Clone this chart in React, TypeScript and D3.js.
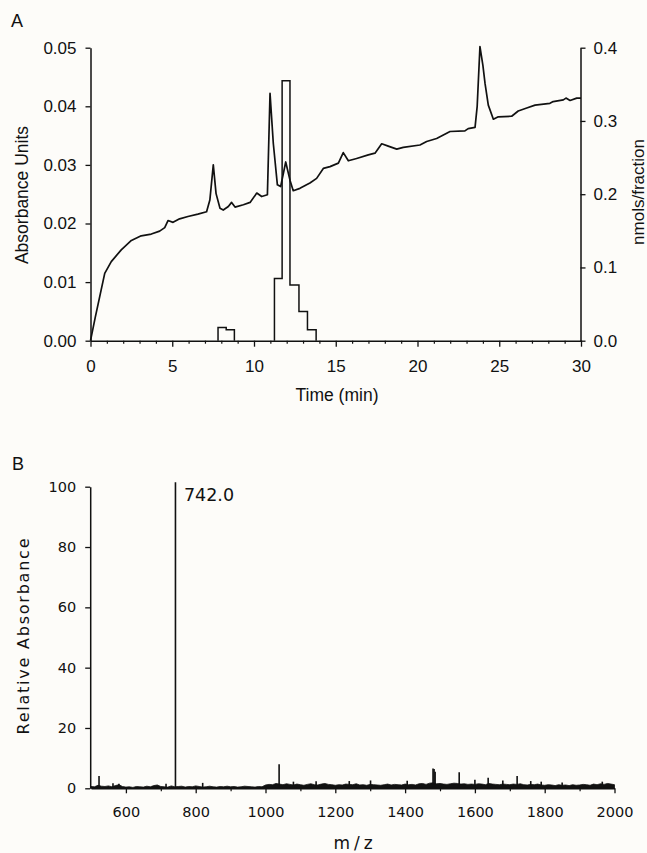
import React, { useEffect, useRef } from "react";
import * as d3 from "d3";

// ---------- Panel A: chromatogram ----------
const chromTime = [
  0.0, 0.3, 0.6, 0.87, 1.27, 1.88, 2.5, 3.1, 3.72, 4.23, 4.54, 4.74, 5.05, 5.45, 5.96, 6.57,
  7.1, 7.3, 7.51, 7.68, 7.92, 8.12, 8.43, 8.63, 8.84, 9.35, 9.76, 10.17, 10.47, 10.82,
  10.98, 11.18, 11.43, 11.63, 11.94, 12.2, 12.4, 12.81, 13.42, 13.83, 14.24, 14.65, 15.16,
  15.46, 15.77, 16.28, 16.99, 17.4, 17.81, 18.21, 18.73, 19.13, 20.15, 20.56, 21.17, 21.58,
  21.99, 22.9, 23.1, 23.52, 23.65, 23.82, 24.0, 24.13, 24.33, 24.64, 24.94, 25.76, 26.16,
  26.68, 27.19, 28.1, 28.3, 28.92, 29.08, 29.33, 29.74, 30.0,
];
const chromAbs = [
  0.0, 0.0041, 0.008, 0.0115, 0.0135, 0.0155, 0.0171, 0.0179, 0.0182, 0.0187, 0.0193, 0.0205,
  0.0202, 0.0208, 0.0212, 0.0216, 0.022, 0.024, 0.03, 0.0251, 0.0226, 0.0223, 0.0229, 0.0236,
  0.0228, 0.0232, 0.0236, 0.0252, 0.0246, 0.0249, 0.0422, 0.0337, 0.0266, 0.0263, 0.0305,
  0.0274, 0.0256, 0.026, 0.0269, 0.0277, 0.0294, 0.0297, 0.0303, 0.0321, 0.0307, 0.0311,
  0.0317, 0.032, 0.0336, 0.0332, 0.0327, 0.033, 0.0334, 0.034, 0.0345, 0.0351, 0.0357,
  0.0358, 0.0362, 0.0364, 0.04, 0.0502, 0.047, 0.0439, 0.0402, 0.0378, 0.0382, 0.0383,
  0.0392, 0.0397, 0.0402, 0.0405, 0.0408, 0.0411, 0.0414, 0.041, 0.0414, 0.0414,
];
const fractionStart = [7.8, 8.3, 11.25, 11.72, 12.2, 12.75, 13.27];
const fractionEnd = [8.3, 8.8, 11.72, 12.2, 12.75, 13.27, 13.8];
const fractionNmol = [0.018, 0.015, 0.085, 0.355, 0.076, 0.04, 0.015];

const timeTicks = [0, 5, 10, 15, 20, 25, 30];
const timeMinorTicks = [1, 2, 3, 4, 6, 7, 8, 9, 11, 12, 13, 14, 16, 17, 18, 19, 21, 22, 23, 24, 26, 27, 28, 29];
const absTicks = [0, 0.01, 0.02, 0.03, 0.04, 0.05];
const nmolTicks = [0, 0.1, 0.2, 0.3, 0.4];

// ---------- Panel B: mass spectrum ----------
const noiseLevel = [
  0.6, 0.5, 1.0, 0.7, 0.6, 0.8, 0.5, 0.9, 1.2, 0.6,
  0.4, 0.5, 0.3, 0.6, 0.5, 0.4, 0.7, 0.5, 0.9, 1.1,
  0.6, 0.5, 0.4, 0.8, 0.5, 0.6, 0.7, 0.4, 0.6, 0.5,
  0.8, 0.6, 0.4, 0.5, 0.7, 0.5, 0.4, 0.6, 0.5, 0.7,
  0.5, 0.6, 0.4, 0.5, 0.7, 0.6, 0.5, 0.4, 0.6, 0.5,
  1.1, 1.3, 1.2, 1.6, 1.4, 1.2, 1.5, 1.3, 1.1, 1.4,
  1.2, 1.0, 1.3, 1.5, 1.2, 1.1, 1.4, 1.6, 1.3, 1.2,
  1.0, 1.2, 1.1, 1.4, 1.3, 1.2, 1.5, 1.1, 1.2, 1.0,
  1.3, 1.2, 1.1, 1.0, 1.2, 1.4, 1.1, 1.3, 1.2, 1.1,
  1.4, 1.2, 1.3, 1.1, 1.5, 1.6, 1.3, 1.7, 1.8, 1.5,
  1.6, 1.4, 1.3, 1.5, 1.7, 1.6, 1.4, 1.5, 1.3, 1.4,
  1.3, 1.5, 1.4, 1.2, 1.6, 1.4, 1.3, 1.2, 1.4, 1.3,
  1.2, 1.4, 1.3, 1.5, 1.2, 1.1, 1.3, 1.2, 1.4, 1.1,
  1.0, 1.2, 1.1, 0.9, 1.2, 1.0, 1.1, 0.9, 1.2, 1.0,
  1.1, 1.3, 1.2, 1.0, 1.4, 1.2, 1.5, 1.3, 1.6, 1.4,
  1.2,
];
const noiseMz = d3.range(500, 2001, 10);
const peakMz = [523, 563, 580, 715, 742, 820, 1039, 1080, 1145, 1240, 1301, 1406, 1480, 1483, 1486, 1555, 1600, 1638, 1680, 1721, 1760, 1790, 1850, 1965];
const peakInt = [4.1, 1.7, 1.5, 1.5, 101.5, 1.8, 8.0, 2.2, 2.3, 2.4, 2.6, 2.5, 6.6, 6.4, 5.5, 5.3, 2.8, 3.5, 2.6, 4.1, 2.4, 2.2, 1.9, 2.2];
const mzTicks = [600, 800, 1000, 1200, 1400, 1600, 1800, 2000];
const mzMinorTicks = [700, 900, 1100, 1300, 1500, 1700, 1900];
const relTicks = [0, 20, 40, 60, 80, 100];

const W = 647;
const H = 853;
const FA = "'Liberation Sans', Arial, sans-serif";
const FB = "'DejaVu Sans', sans-serif";

function styleAxis(g: any, font: string, size: number) {
  g.attr("font-family", font).attr("font-size", size);
  g.select(".domain").attr("stroke", "#111").attr("stroke-width", 1.5);
  g.selectAll(".tick line").attr("stroke", "#111").attr("stroke-width", 1.3);
  g.selectAll(".tick text").attr("fill", "#111");
}

export default function App() {
  const ref = useRef<SVGSVGElement>(null);

  useEffect(() => {
    const svg = d3.select(ref.current);
    svg.selectAll("*").remove();
    svg.append("rect").attr("width", W).attr("height", H).attr("fill", "#fdfcf9");

    // ===== Panel A =====
    const xA = d3.scaleLinear().domain([0, 30]).range([90.5, 581]);
    const yA = d3.scaleLinear().domain([0, 0.05]).range([340.7, 47.7]);
    const yR = d3.scaleLinear().domain([0, 0.4]).range([340.7, 47.7]);

    const gA = svg.append("g");

    // fraction histogram
    let dHist = "";
    for (let i = 0; i < fractionStart.length; i++) {
      const contiguousPrev = i > 0 && Math.abs(fractionStart[i] - fractionEnd[i - 1]) < 1e-6;
      const contiguousNext =
        i < fractionStart.length - 1 && Math.abs(fractionStart[i + 1] - fractionEnd[i]) < 1e-6;
      if (!contiguousPrev) dHist += `M${xA(fractionStart[i])},${yR(0)}`;
      dHist += `V${yR(fractionNmol[i])}H${xA(fractionEnd[i])}`;
      if (!contiguousNext) dHist += `V${yR(0)}`;
    }
    gA.append("path")
      .attr("d", dHist)
      .attr("fill", "none")
      .attr("stroke", "#111")
      .attr("stroke-width", 1.5)
      .attr("stroke-linejoin", "miter");

    // absorbance trace
    const line = d3
      .line<number>()
      .x((i) => xA(chromTime[i]))
      .y((i) => yA(chromAbs[i]));
    gA.append("path")
      .attr("d", line(d3.range(chromTime.length)))
      .attr("fill", "none")
      .attr("stroke", "#111")
      .attr("stroke-width", 1.7)
      .attr("stroke-linejoin", "round");

    // axes
    const axB = gA.append("g").attr("transform", `translate(0,${yA(0)})`);
    axB.call(
      d3.axisBottom(xA).tickValues(timeTicks).tickSize(6).tickSizeOuter(0).tickPadding(13.5).tickFormat(d3.format("d"))
    );
    styleAxis(axB, FA, 17);
    const axBm = gA.append("g").attr("transform", `translate(0,${yA(0)})`);
    axBm.call(d3.axisBottom(xA).tickValues(timeMinorTicks).tickSize(3).tickFormat(() => ""));
    axBm.select(".domain").remove();
    axBm.selectAll(".tick line").attr("stroke", "#111").attr("stroke-width", 1.2);

    const axL = gA.append("g").attr("transform", `translate(${xA(0)},0)`);
    axL.call(d3.axisLeft(yA).tickValues(absTicks).tickSize(5).tickSizeOuter(0).tickPadding(9).tickFormat(d3.format(".2f")));
    styleAxis(axL, FA, 17);

    const axR = gA.append("g").attr("transform", `translate(${xA(30) - 0.5},0)`);
    axR.call(d3.axisRight(yR).tickValues(nmolTicks).tickSize(5).tickSizeOuter(0).tickPadding(8).tickFormat(d3.format(".1f")));
    styleAxis(axR, FA, 17);

    gA.append("text").attr("x", 11).attr("y", 26.7).attr("font-family", FA).attr("font-size", 18).attr("fill", "#111").text("A");
    gA.append("text")
      .attr("transform", "translate(28,195) rotate(-90)")
      .attr("text-anchor", "middle")
      .attr("font-family", FA)
      .attr("font-size", 17.5)
      .attr("fill", "#111")
      .text("Absorbance Units");
    gA.append("text")
      .attr("transform", "translate(643.5,192) rotate(-90)")
      .attr("text-anchor", "middle")
      .attr("font-family", FA)
      .attr("font-size", 17)
      .attr("fill", "#111")
      .text("nmols/fraction");
    gA.append("text")
      .attr("x", 337)
      .attr("y", 401)
      .attr("text-anchor", "middle")
      .attr("font-family", FA)
      .attr("font-size", 17.5)
      .attr("fill", "#111")
      .text("Time (min)");

    // ===== Panel B =====
    const xB = d3.scaleLinear().domain([500, 2000]).range([91, 614.5]);
    const yB = d3.scaleLinear().domain([0, 100]).range([788.3, 486.7]);
    const gB = svg.append("g");

    // dense baseline noise drawn as a filled band on the axis
    const noiseArea = d3
      .area<number>()
      .x((i) => xB(noiseMz[i]))
      .y0(yB(0))
      .y1((i) => yB(noiseLevel[i]));
    gB.append("path")
      .attr("d", noiseArea(d3.range(noiseMz.length)))
      .attr("fill", "#111")
      .attr("stroke", "#111")
      .attr("stroke-width", 0.8);

    gB.selectAll("line.peak")
      .data(d3.range(peakMz.length))
      .join("line")
      .attr("class", "peak")
      .attr("x1", (i) => xB(peakMz[i]))
      .attr("x2", (i) => xB(peakMz[i]))
      .attr("y1", yB(0))
      .attr("y2", (i) => yB(peakInt[i]))
      .attr("stroke", "#111")
      .attr("stroke-width", 1.6);

    const bxAx = gB.append("g").attr("transform", `translate(0,${yB(0)})`);
    bxAx.call(d3.axisBottom(xB).tickValues(mzTicks).tickSize(5).tickSizeOuter(0).tickPadding(13).tickFormat(d3.format("d")));
    styleAxis(bxAx, FB, 14.5);
    const bxAxm = gB.append("g").attr("transform", `translate(0,${yB(0)})`);
    bxAxm.call(d3.axisBottom(xB).tickValues(mzMinorTicks).tickSize(3).tickFormat(() => ""));
    bxAxm.select(".domain").remove();
    bxAxm.selectAll(".tick line").attr("stroke", "#111").attr("stroke-width", 1.2);

    const byAx = gB.append("g").attr("transform", `translate(${xB(500) - 0.8},0)`);
    byAx.call(d3.axisLeft(yB).tickValues(relTicks).tickSize(5).tickSizeOuter(0).tickPadding(9).tickFormat(d3.format("d")));
    styleAxis(byAx, FB, 14.5);

    gB.append("text").attr("x", 12).attr("y", 470).attr("font-family", FA).attr("font-size", 18).attr("fill", "#111").text("B");
    gB.append("text")
      .attr("x", xB(742) + 8.5)
      .attr("y", 500.5)
      .attr("font-family", FB)
      .attr("font-size", 17.5)
      .attr("fill", "#111")
      .text("742.0");
    gB.append("text")
      .attr("transform", "translate(28.5,636.5) rotate(-90)")
      .attr("text-anchor", "middle")
      .attr("font-family", FB)
      .attr("font-size", 16)
      .attr("fill", "#111")
      .attr("textLength", 196)
      .attr("lengthAdjust", "spacing")
      .text("Relative Absorbance");
    gB.append("text")
      .attr("x", 355)
      .attr("y", 849)
      .attr("text-anchor", "middle")
      .attr("font-family", FB)
      .attr("font-size", 17)
      .attr("letter-spacing", 4)
      .attr("fill", "#111")
      .text("m/z");
  }, []);

  return (
    <svg
      ref={ref}
      width={W}
      height={H}
      style={{ position: "absolute", left: 0, top: 0, display: "block" }}
    />
  );
}
